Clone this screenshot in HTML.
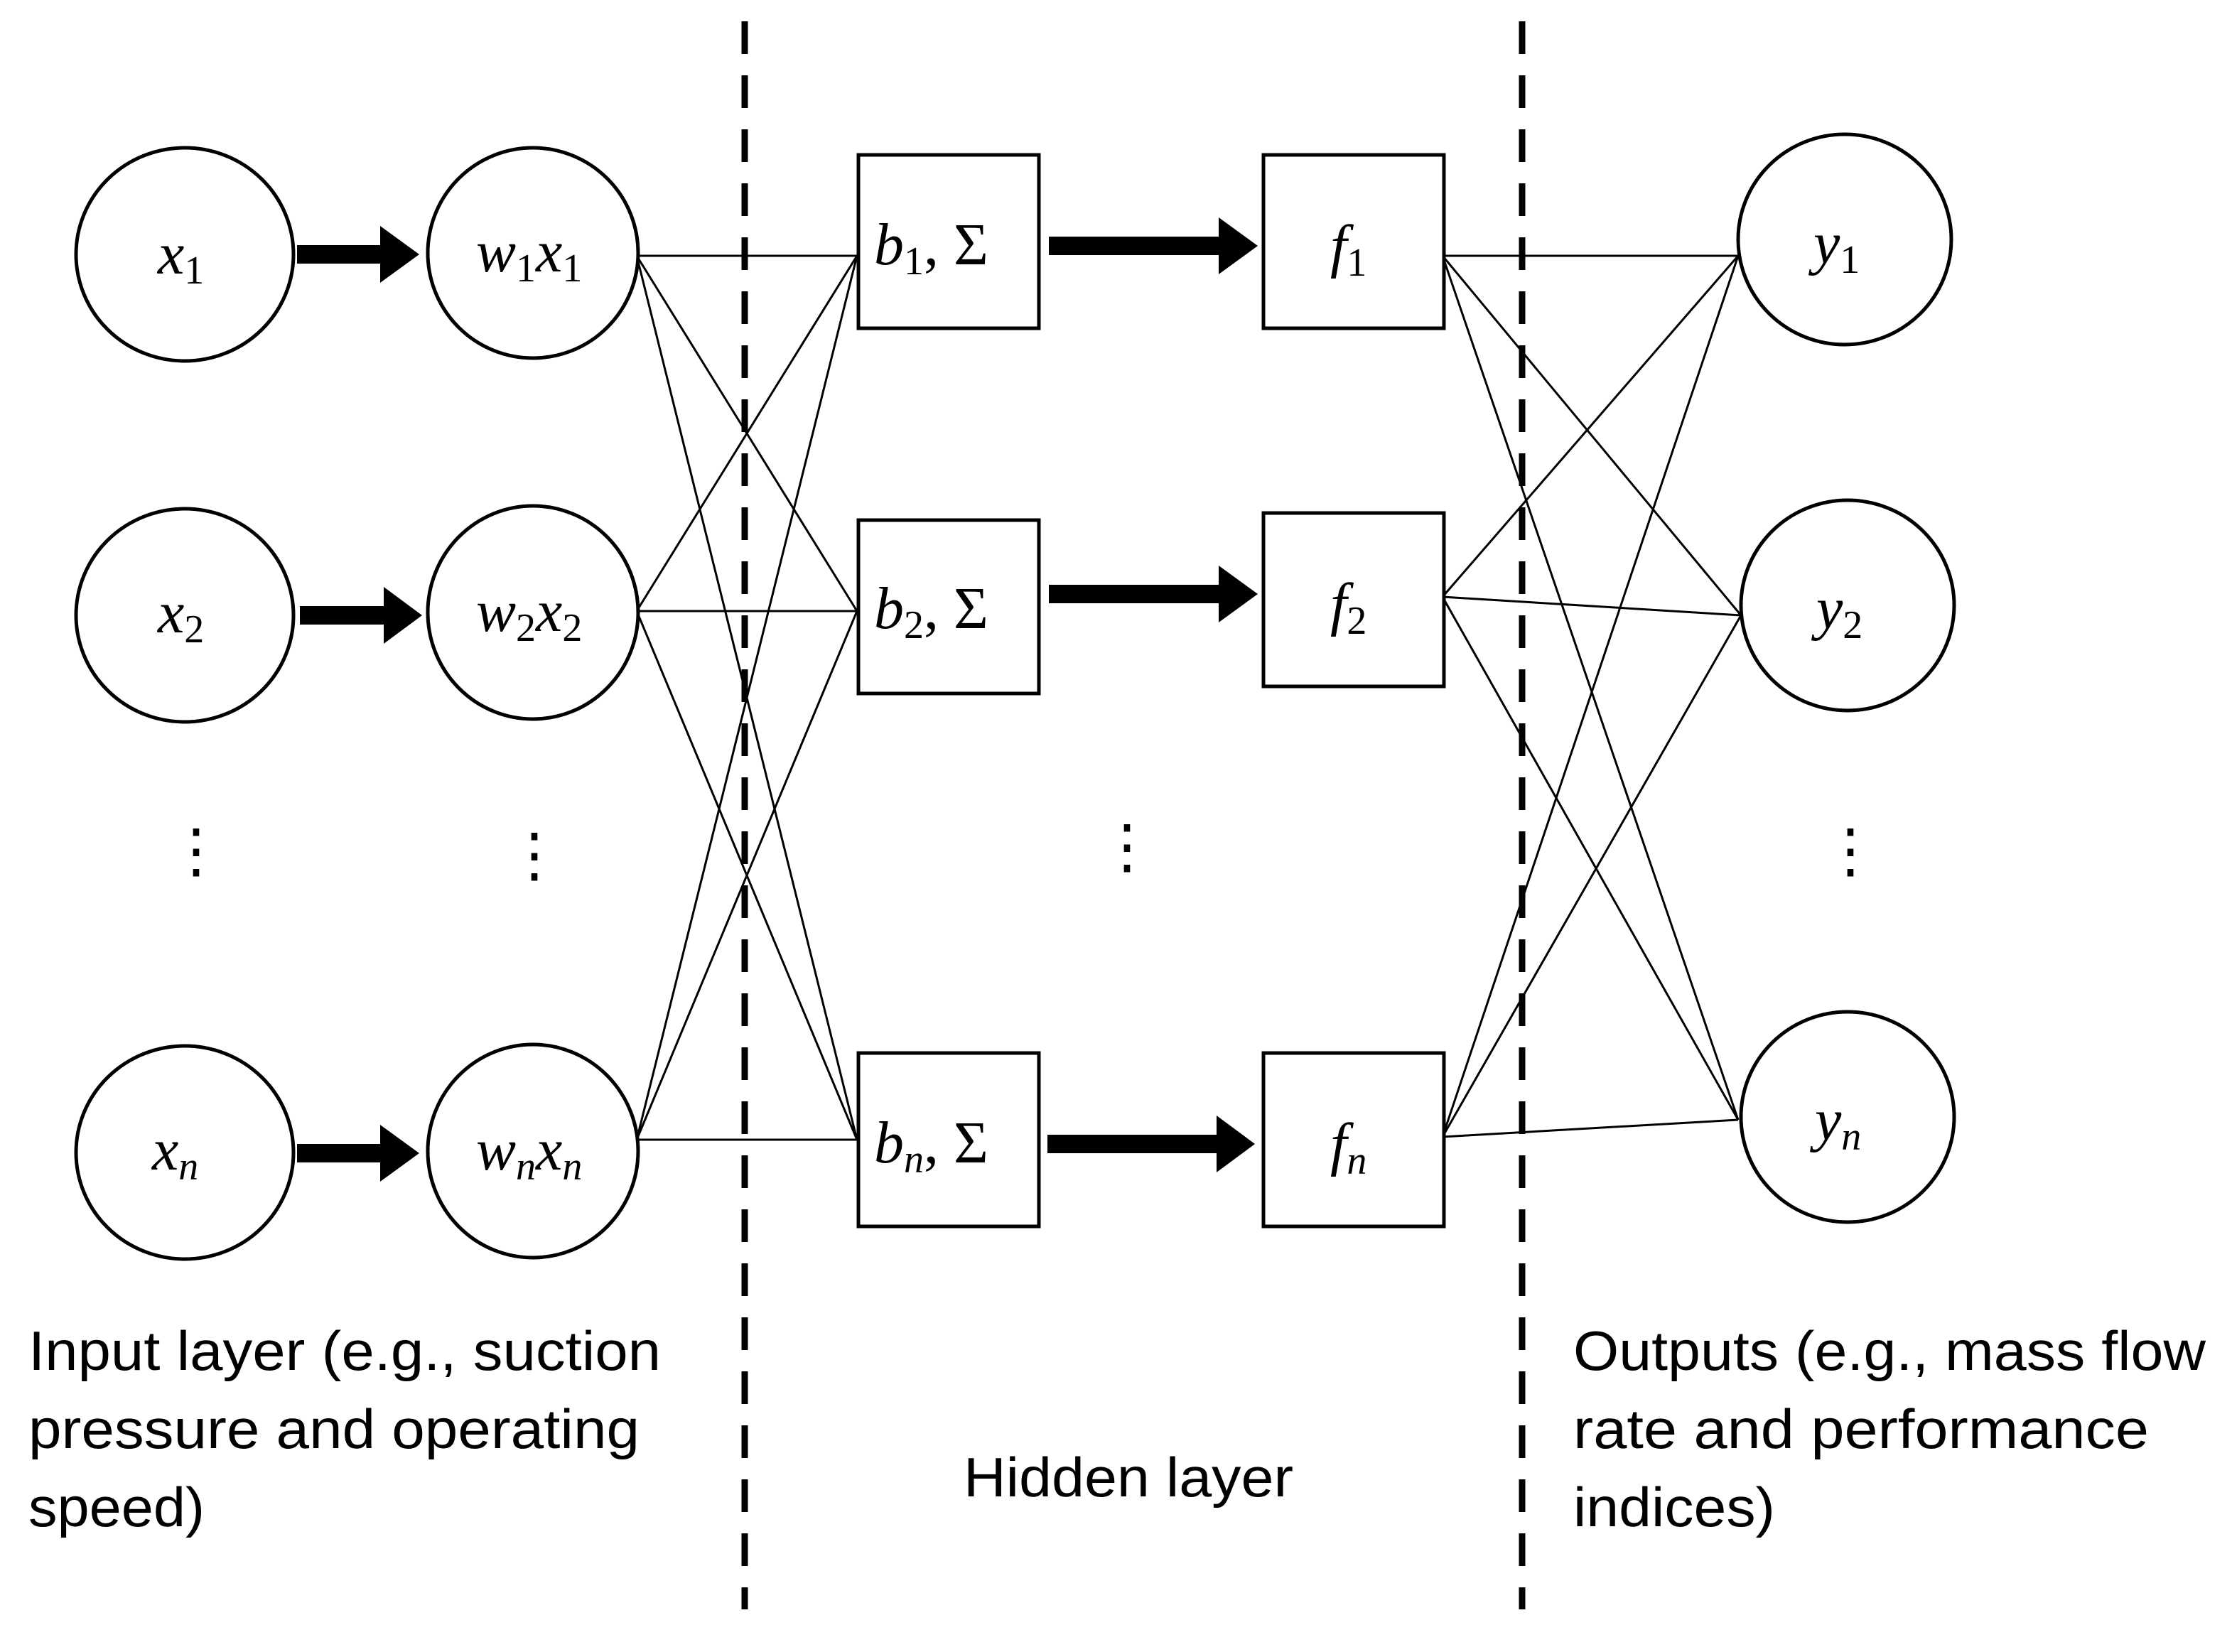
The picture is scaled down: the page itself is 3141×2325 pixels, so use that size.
<!DOCTYPE html>
<html><head><meta charset="utf-8"><style>
html,body{margin:0;padding:0;background:#fff;}
svg{display:block;}
.m{font-family:"Liberation Serif",serif;font-style:italic;font-size:84px;}
.s{font-family:"Liberation Serif",serif;font-style:normal;font-size:56px;}
.t{font-family:"Liberation Sans",sans-serif;font-size:78px;}
</style></head><body>
<svg width="3141" height="2325" viewBox="0 0 3141 2325" xmlns="http://www.w3.org/2000/svg">
<rect width="3141" height="2325" fill="#fff"/>
<g fill="none" stroke="#000" stroke-width="3">
<line x1="896" y1="360" x2="1206" y2="360"/>
<line x1="896" y1="360" x2="1206" y2="860"/>
<line x1="896" y1="360" x2="1206" y2="1604"/>
<line x1="896" y1="860" x2="1206" y2="360"/>
<line x1="896" y1="860" x2="1206" y2="860"/>
<line x1="896" y1="860" x2="1206" y2="1604"/>
<line x1="896" y1="1604" x2="1206" y2="360"/>
<line x1="896" y1="1604" x2="1206" y2="860"/>
<line x1="896" y1="1604" x2="1206" y2="1604"/>
<line x1="2030" y1="360" x2="2446" y2="360"/>
<line x1="2030" y1="360" x2="2450" y2="866"/>
<line x1="2030" y1="360" x2="2446" y2="1576"/>
<line x1="2030" y1="840" x2="2446" y2="360"/>
<line x1="2030" y1="840" x2="2450" y2="866"/>
<line x1="2030" y1="840" x2="2446" y2="1576"/>
<line x1="2030" y1="1600" x2="2446" y2="360"/>
<line x1="2030" y1="1600" x2="2450" y2="866"/>
<line x1="2030" y1="1600" x2="2446" y2="1576"/>
</g>
<g fill="none" stroke="#000" stroke-width="9" stroke-dasharray="46 30">
<line x1="1048" y1="30" x2="1048" y2="2265"/>
<line x1="2142" y1="30" x2="2142" y2="2265"/>
</g>
<g fill="#fff" stroke="#000" stroke-width="5">
<ellipse cx="260" cy="358" rx="153" ry="150"/>
<ellipse cx="260" cy="866" rx="153" ry="150"/>
<ellipse cx="260" cy="1622" rx="153" ry="150"/>
<ellipse cx="750" cy="356" rx="148" ry="148"/>
<ellipse cx="750" cy="862" rx="148" ry="150"/>
<ellipse cx="750" cy="1620" rx="148" ry="150"/>
<rect x="1208" y="218" width="254" height="244"/>
<rect x="1208" y="732" width="254" height="244"/>
<rect x="1208" y="1482" width="254" height="244"/>
<rect x="1778" y="218" width="254" height="244"/>
<rect x="1778" y="722" width="254" height="244"/>
<rect x="1778" y="1482" width="254" height="244"/>
<ellipse cx="2596" cy="337" rx="150" ry="148"/>
<ellipse cx="2600" cy="852" rx="150" ry="148"/>
<ellipse cx="2600" cy="1572" rx="150" ry="148"/>
</g>
<g fill="#000">
<polygon points="418,345 535,345 535,318 590,358 535,398 535,371 418,371"/>
<polygon points="422,853 540,853 540,826 594,866 540,906 540,879 422,879"/>
<polygon points="418,1610 535,1610 535,1583 590,1623 535,1663 535,1636 418,1636"/>
<polygon points="1476,333 1715,333 1715,306 1770,346 1715,386 1715,359 1476,359"/>
<polygon points="1476,823 1715,823 1715,796 1770,836 1715,876 1715,849 1476,849"/>
<polygon points="1474,1597 1712,1597 1712,1570 1766,1610 1712,1650 1712,1623 1474,1623"/>
</g>
<g class="m">
<text x="222" y="385">x<tspan class="s" dy="14">1</tspan></text>
<text x="222" y="890">x<tspan class="s" dy="14">2</tspan></text>
<text x="214" y="1646">x<tspan class="s" dy="14" style="font-style:italic">n</tspan></text>
<text x="670" y="382">w<tspan class="s" dy="14">1</tspan><tspan dy="-14">x</tspan><tspan class="s" dy="14">1</tspan></text>
<text x="670" y="888">w<tspan class="s" dy="14">2</tspan><tspan dy="-14">x</tspan><tspan class="s" dy="14">2</tspan></text>
<text x="670" y="1646">w<tspan class="s" dy="14" style="font-style:italic">n</tspan><tspan dy="-14">x</tspan><tspan class="s" dy="14" style="font-style:italic">n</tspan></text>
<text x="1230" y="372">b<tspan class="s" dy="14">1</tspan><tspan dy="-14" style="font-style:normal">, Σ</tspan></text>
<text x="1230" y="884">b<tspan class="s" dy="14">2</tspan><tspan dy="-14" style="font-style:normal">, Σ</tspan></text>
<text x="1230" y="1636">b<tspan class="s" dy="14" style="font-style:italic">n</tspan><tspan dy="-14" style="font-style:normal">, Σ</tspan></text>
<text x="1872" y="374">f<tspan class="s" dy="14">1</tspan></text>
<text x="1872" y="878">f<tspan class="s" dy="14">2</tspan></text>
<text x="1872" y="1638">f<tspan class="s" dy="14" style="font-style:italic">n</tspan></text>
<text x="2552" y="370">y<tspan class="s" dy="14">1</tspan></text>
<text x="2556" y="884">y<tspan class="s" dy="14">2</tspan></text>
<text x="2554" y="1604">y<tspan class="s" dy="14" style="font-style:italic">n</tspan></text>
</g>
<g class="m" style="font-style:normal" text-anchor="middle">
<text x="276" y="1226">⋮</text>
<text x="752" y="1232">⋮</text>
<text x="1586" y="1220">⋮</text>
<text x="2604" y="1226">⋮</text>
</g>
<g class="t">
<text x="40" y="1928" textLength="890" lengthAdjust="spacingAndGlyphs">Input layer (e.g., suction</text>
<text x="40" y="2038" textLength="860" lengthAdjust="spacingAndGlyphs">pressure and operating</text>
<text x="40" y="2148" textLength="248" lengthAdjust="spacingAndGlyphs">speed)</text>
<text x="1356" y="2106" textLength="464" lengthAdjust="spacingAndGlyphs">Hidden layer</text>
<text x="2214" y="1928" textLength="890" lengthAdjust="spacingAndGlyphs">Outputs (e.g., mass flow</text>
<text x="2214" y="2038" textLength="810" lengthAdjust="spacingAndGlyphs">rate and performance</text>
<text x="2214" y="2148" textLength="284" lengthAdjust="spacingAndGlyphs">indices)</text>
</g>
</svg>
</body></html>
